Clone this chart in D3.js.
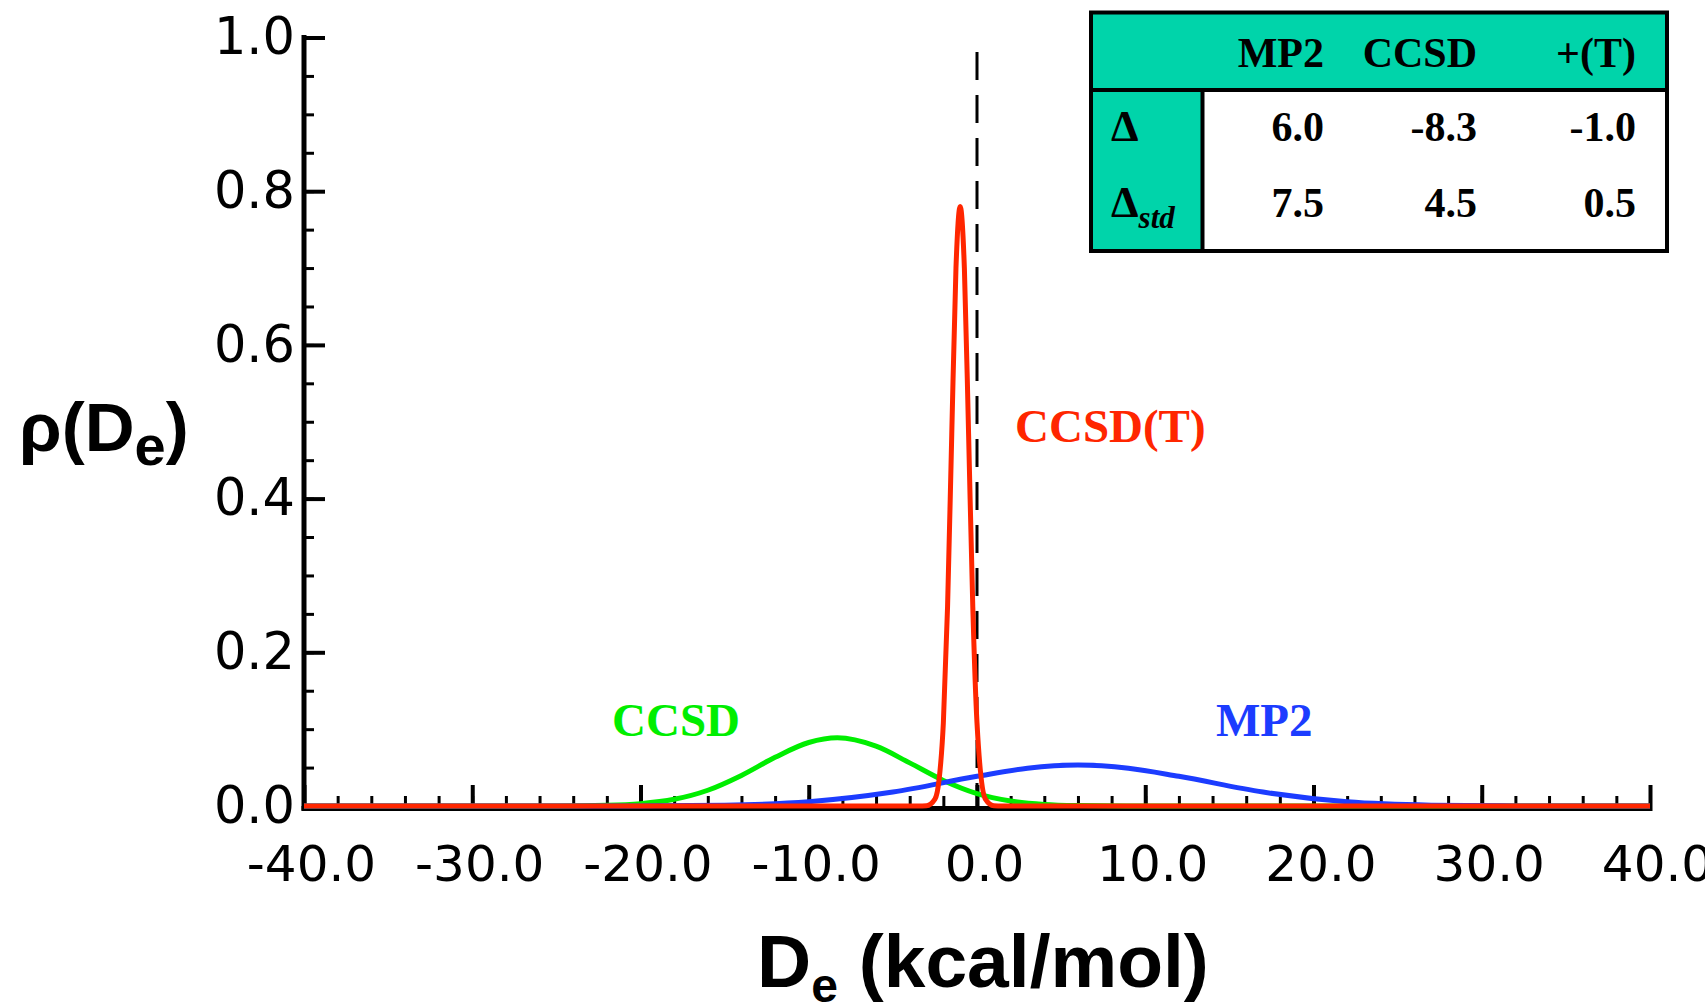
<!DOCTYPE html>
<html>
<head>
<meta charset="utf-8">
<script src="https://cdn.jsdelivr.net/npm/d3@7"></script>
<style>
  html, body { margin: 0; padding: 0; background: #fff; }
  svg { display: block; }
</style>
</head>
<body>
<div id="chart"></div>
<script>
// --- data ---
var xTickValues = [-40, -30, -20, -10, 0, 10, 20, 30, 40];
var yTickValues = [0, 0.2, 0.4, 0.6, 0.8, 1.0];

// MP2 curve (blue)
var mp2X = [-40, -25, -20, -15, -10, -5, 0, 3, 6, 9, 12, 17, 22, 27, 32, 40];
var mp2Y = [0, 0, 0.00013, 0.0011, 0.0055, 0.0181, 0.0386, 0.0491, 0.0532, 0.0491, 0.0386, 0.0181, 0.0055, 0.0011, 0.00013, 0];

// CCSD curve (green)
var ccsdX = [-40, -25, -22, -20, -18, -16, -14, -12, -10, -8.3, -6, -4, -2, 0, 2, 4, 6, 9, 40];
var ccsdY = [0, 0.0001, 0.0009, 0.003, 0.0087, 0.0205, 0.0398, 0.0633, 0.0826, 0.0887, 0.0778, 0.0561, 0.0333, 0.0162, 0.0065, 0.0021, 0.0006, 0, 0];

// CCSD(T) curve (red)
var ccsdtX = [-40, -3.5, -3, -2.5, -2.25, -2, -1.75, -1.5, -1.25, -1, -0.75, -0.5, -0.25, 0, 0.5, 1, 1.5, 40];
var ccsdtY = [0, 0, 0.0003, 0.0089, 0.035, 0.108, 0.259, 0.484, 0.70, 0.78, 0.70, 0.484, 0.259, 0.108, 0.0089, 0.0003, 0, 0];

// inset table
var tableCols = ["MP2", "CCSD", "+(T)"];
var deltaVals = ["6.0", "-8.3", "-1.0"];
var stdVals = ["7.5", "4.5", "0.5"];

var width = 1705, height = 1002;
var teal = "#00d4aa";

var svg = d3.select("#chart").append("svg")
  .attr("width", width)
  .attr("height", height);

var x = d3.scaleLinear().domain([-40, 40]).range([304, 1650]);
var y = d3.scaleLinear().domain([0, 1]).range([806, 37.5]);

var fmt = function(d) { return d3.format(".1f")(d).replace("\u2212", "-"); };
var tickFont = "'DejaVu Sans', sans-serif";

// y axis: minor ticks
svg.append("g")
  .attr("transform", "translate(304,0)")
  .call(d3.axisLeft(y).tickValues(d3.range(0, 1.0001, 0.05)).tickSizeInner(-10).tickSizeOuter(0).tickFormat(""))
  .call(function(g) {
    g.select(".domain").remove();
    g.selectAll("line").attr("stroke", "#000").attr("stroke-width", 3);
  });

// y axis: major ticks + labels
svg.append("g")
  .attr("transform", "translate(304,0)")
  .call(d3.axisLeft(y).tickValues(yTickValues).tickSizeInner(-21).tickSizeOuter(0).tickPadding(9).tickFormat(fmt))
  .call(function(g) {
    g.select(".domain").remove();
    g.selectAll("line").attr("stroke", "#000").attr("stroke-width", 4);
    g.selectAll("text").attr("font-family", tickFont).attr("font-size", 51).attr("fill", "#000");
  });

// x axis: minor ticks
svg.append("g")
  .attr("transform", "translate(0,806)")
  .call(d3.axisBottom(x).tickValues(d3.range(-40, 40.001, 2)).tickSizeInner(-10).tickSizeOuter(0).tickFormat(""))
  .call(function(g) {
    g.select(".domain").remove();
    g.selectAll("line").attr("stroke", "#000").attr("stroke-width", 3);
  });

// x axis: major ticks + labels
svg.append("g")
  .attr("transform", "translate(0,806)")
  .call(d3.axisBottom(x).tickValues(xTickValues).tickSizeInner(-21).tickSizeOuter(0).tickPadding(39).tickFormat(fmt))
  .call(function(g) {
    g.select(".domain").remove();
    g.selectAll("line").attr("stroke", "#000").attr("stroke-width", 4);
    g.selectAll("text").attr("font-family", tickFont).attr("font-size", 50).attr("fill", "#000").attr("dx", 7);
  });

// axis lines
svg.append("line")
  .attr("x1", 304).attr("x2", 304)
  .attr("y1", 35).attr("y2", 810.5)
  .attr("stroke", "#000").attr("stroke-width", 5);
svg.append("line")
  .attr("x1", 301.5).attr("x2", 1652.5)
  .attr("y1", 808.5).attr("y2", 808.5)
  .attr("stroke", "#000").attr("stroke-width", 5);

// dashed reference line at zero
svg.append("line")
  .attr("x1", x(0)).attr("x2", x(0))
  .attr("y1", 52).attr("y2", 806)
  .attr("stroke", "#000").attr("stroke-width", 3)
  .attr("stroke-dasharray", "28,15");

// curves
var line = d3.line()
  .x(function(d) { return x(d[0]); })
  .y(function(d) { return y(d[1]); })
  .curve(d3.curveMonotoneX);

var series = [
  { xs: ccsdX, ys: ccsdY, color: "#00ee00" },
  { xs: mp2X, ys: mp2Y, color: "#1c3cff" },
  { xs: ccsdtX, ys: ccsdtY, color: "#ff2600" }
];

series.forEach(function(s) {
  var pts = s.xs.map(function(v, i) { return [v, s.ys[i]]; });
  svg.append("path")
    .datum(pts)
    .attr("d", line)
    .attr("fill", "none")
    .attr("stroke", s.color)
    .attr("stroke-width", 5)
    .attr("stroke-linejoin", "round");
});

// curve labels
var serif = "'Liberation Serif', 'Times New Roman', serif";
svg.append("text").text("CCSD(T)")
  .attr("x", 1015).attr("y", 442)
  .attr("font-family", serif).attr("font-weight", "bold").attr("font-size", 47)
  .attr("fill", "#ff2600");
svg.append("text").text("CCSD")
  .attr("x", 612).attr("y", 736)
  .attr("font-family", serif).attr("font-weight", "bold").attr("font-size", 47)
  .attr("fill", "#00ee00");
svg.append("text").text("MP2")
  .attr("x", 1216).attr("y", 736)
  .attr("font-family", serif).attr("font-weight", "bold").attr("font-size", 47)
  .attr("fill", "#1c3cff");

// axis titles
var sans = "'Liberation Sans', Arial, sans-serif";
var xt = svg.append("text")
  .attr("x", 757).attr("y", 987)
  .attr("font-family", sans).attr("font-weight", "bold").attr("font-size", 75)
  .attr("fill", "#000");
xt.append("tspan").text("D");
xt.append("tspan").text("e").attr("font-size", 48).attr("dy", 15);
xt.append("tspan").text(" (kcal/mol)").attr("dy", -15);

var yt = svg.append("text")
  .attr("x", 19).attr("y", 451)
  .attr("font-family", sans).attr("font-weight", "bold").attr("font-size", 69)
  .attr("fill", "#000");
yt.append("tspan").text("\u03c1(");
yt.append("tspan").text("D");
yt.append("tspan").text("e").attr("font-size", 56).attr("dy", 14);
yt.append("tspan").text(")").attr("dy", -14);

// inset table
var tx0 = 1091, tx1 = 1667, ty0 = 12.5, ty1 = 251, hy = 90, cx = 1202.5;
var tbl = svg.append("g");
tbl.append("rect").attr("x", tx0).attr("y", ty0).attr("width", tx1 - tx0).attr("height", ty1 - ty0).attr("fill", "#fff");
tbl.append("rect").attr("x", tx0).attr("y", ty0).attr("width", tx1 - tx0).attr("height", hy - ty0).attr("fill", teal);
tbl.append("rect").attr("x", tx0).attr("y", hy).attr("width", cx - tx0).attr("height", ty1 - hy).attr("fill", teal);
tbl.append("line").attr("x1", tx0).attr("x2", tx1).attr("y1", hy).attr("y2", hy).attr("stroke", "#000").attr("stroke-width", 4);
tbl.append("line").attr("x1", cx).attr("x2", cx).attr("y1", hy).attr("y2", ty1).attr("stroke", "#000").attr("stroke-width", 4);
tbl.append("rect").attr("x", tx0).attr("y", ty0).attr("width", tx1 - tx0).attr("height", ty1 - ty0)
  .attr("fill", "none").attr("stroke", "#000").attr("stroke-width", 4);

var colRight = [1324, 1477, 1636];
var rowBase = [67, 141, 217];
[tableCols, deltaVals, stdVals].forEach(function(row, r) {
  tbl.selectAll(null)
    .data(row)
    .enter().append("text")
    .attr("x", function(d, i) { return colRight[i]; })
    .attr("y", rowBase[r])
    .attr("text-anchor", "end")
    .attr("font-family", serif).attr("font-weight", "bold").attr("font-size", 42)
    .attr("fill", "#000")
    .text(function(d) { return d; });
});

tbl.append("text").text("\u0394")
  .attr("x", 1111).attr("y", 141)
  .attr("font-family", serif).attr("font-weight", "bold").attr("font-size", 44).attr("fill", "#000");
var ds = tbl.append("text")
  .attr("x", 1111).attr("y", 217)
  .attr("font-family", serif).attr("font-weight", "bold").attr("font-size", 44).attr("fill", "#000");
ds.append("tspan").text("\u0394");
ds.append("tspan").text("std").attr("font-size", 31).attr("font-style", "italic").attr("dy", 11);
</script>
</body>
</html>
